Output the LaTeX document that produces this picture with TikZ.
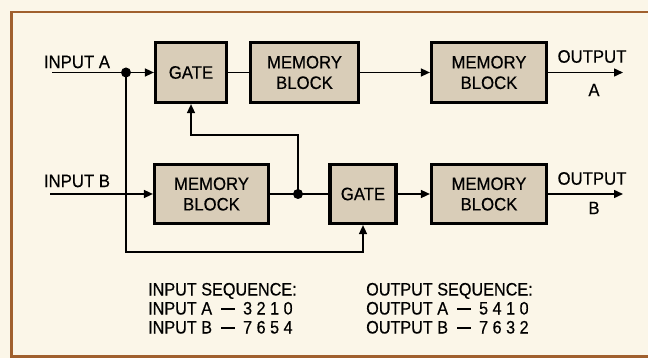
\documentclass[tikz,border=0pt]{standalone}
\usepackage{fontspec}
\setmainfont{Liberation Sans}[FakeStretch=0.93,FakeBold=0.4]
\usetikzlibrary{arrows.meta}
\definecolor{bgcream}{HTML}{FBF6E8}
\definecolor{framebrown}{HTML}{A0602E}
\definecolor{boxtan}{HTML}{D9CDB8}
\newcommand{\dsh}{\hspace{9pt}\rule[5pt]{14pt}{1.5pt}\hspace{8pt}}
\newcommand{\dg}{\hspace{4.5pt}}
\begin{document}
\begin{tikzpicture}[x=1pt,y=-1pt,
  blk/.style={draw=black,line width=3.2pt,fill=boxtan,inner sep=0pt,align=center,
    font=\fontsize{18}{20.5}\selectfont},
  conn/.style={line width=1.5pt,draw=black},
  arr/.style={conn,-{Triangle[length=9pt,width=8pt]}},
  lbl/.style={font=\fontsize{18}{20}\selectfont,inner sep=0pt},
  seq/.style={font=\fontsize{18}{20}\addfontfeatures{FakeStretch=0.9}\selectfont,inner sep=0pt,anchor=base west},
  dotst/.style={circle,fill=black,inner sep=0pt,minimum size=10pt}]
\useasboundingbox (0,0) rectangle (648,358);
\fill[bgcream] (0,0) rectangle (648,358);
\draw[framebrown,line width=2.6pt] (648,12) -- (11.5,12) -- (11.5,356.5) -- (648,356.5);

% blocks
\node[blk,minimum width=71pt,minimum height=60pt] (gateA) at (191,72.5) {GATE};
\node[blk,minimum width=108pt,minimum height=60pt] (memA1) at (304.5,72.5) {MEMORY\\BLOCK};
\node[blk,minimum width=115pt,minimum height=60pt] (memA2) at (489,72.5) {MEMORY\\BLOCK};
\node[blk,minimum width=114pt,minimum height=59pt] (memB1) at (211.5,194) {MEMORY\\BLOCK};
\node[blk,minimum width=66pt,minimum height=59pt] (gateB) at (363,194) {GATE};
\node[blk,minimum width=115pt,minimum height=59pt] (memB2) at (489,194) {MEMORY\\BLOCK};

% coordinates
\coordinate (inA) at (52,72.5);
\coordinate (inB) at (50,194);
\coordinate (outA) at (623,72.5);
\coordinate (outB) at (623,194);
\node[dotst] (dotA) at (126,72.5) {};
\node[dotst] (dotB) at (298,194) {};

% connectors
\draw[arr] (inA) -- (gateA.west);
\draw[conn] (gateA.east) -- (memA1.west);
\draw[arr] (memA1.east) -- (memA2.west);
\draw[arr] (memA2.east) -- (outA);
\draw[arr] (inB) -- (memB1.west);
\draw[conn] (memB1.east) -- (gateB.west);
\draw[arr] (gateB.east) -- (memB2.west);
\draw[arr] (memB2.east) -- (outB);
\draw[arr] (dotB.center) -- (298,135) -- (191,135) -- (gateA.south);
\draw[arr] (dotA.center) -- (126,252) -- (363,252) -- (gateB.south);

% labels
\node[lbl] (lInA) at (77,62) {INPUT A};
\node[lbl] (lInB) at (77,181) {INPUT B};
\node[lbl] (lOutA) at (592,56.5) {OUTPUT};
\node[lbl] (lOutAb) at (594,90) {A};
\node[lbl] (lOutB) at (592,178.5) {OUTPUT};
\node[lbl] (lOutBb) at (594,208) {B};

% sequences
\node[seq] (s1) at (148,295.5) {INPUT SEQUENCE:};
\node[seq] (s2) at (148,314.5) {INPUT A\dsh 3\dg 2\dg 1\dg 0};
\node[seq] (s3) at (148,333.5) {INPUT B\dsh 7\dg 6\dg 5\dg 4};
\node[seq] (s4) at (366,295.5) {OUTPUT SEQUENCE:};
\node[seq] (s5) at (366,314.5) {OUTPUT A\dsh 5\dg 4\dg 1\dg 0};
\node[seq] (s6) at (366,333.5) {OUTPUT B\dsh 7\dg 6\dg 3\dg 2};
\end{tikzpicture}
\end{document}
